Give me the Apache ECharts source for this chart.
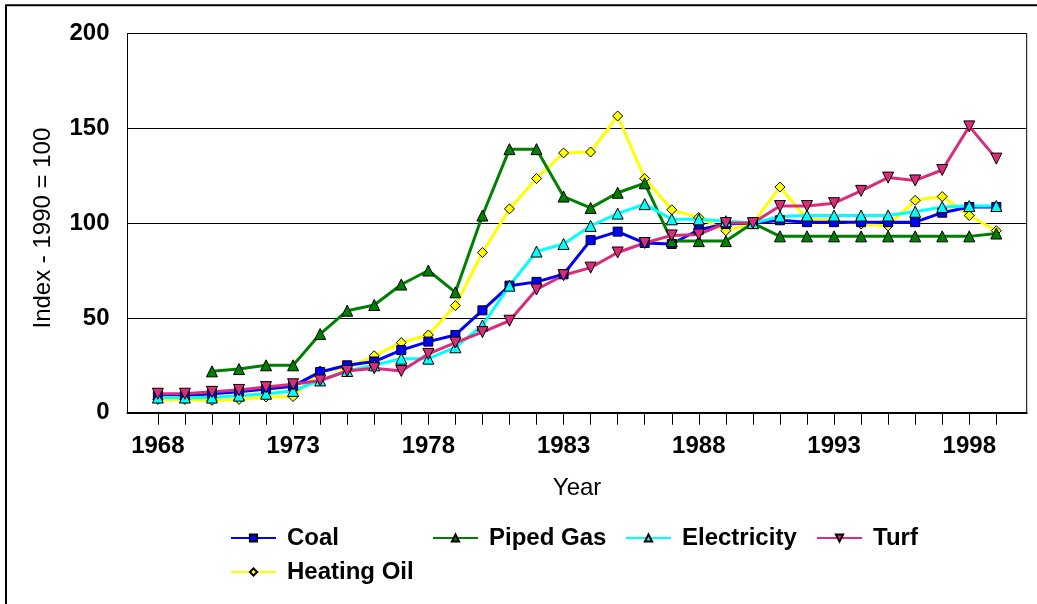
<!DOCTYPE html>
<html>
<head>
<meta charset="utf-8">
<title>Fuel price index</title>
<script src="https://cdn.jsdelivr.net/npm/echarts@6/dist/echarts.min.js"></script>
<style>
  html, body { margin: 0; padding: 0; background: #fff; }
  #chart { width: 1037px; height: 604px; }
</style>
</head>
<body>
<div id="chart"></div>
<script>
// years on the x axis, one tick per year
const years = [1968, 1969, 1970, 1971, 1972, 1973, 1974, 1975, 1976, 1977, 1978, 1979,
  1980, 1981, 1982, 1983, 1984, 1985, 1986, 1987, 1988, 1989, 1990, 1991,
  1992, 1993, 1994, 1995, 1996, 1997, 1998, 1999];
// years that carry a label
const yearLabels = [1968, 1973, 1978, 1983, 1988, 1993, 1998];

// index values, 1990 = 100
const coal = [9, 9, 10, 11, 12.5, 14, 21.5, 25, 27, 33, 37.5, 41,
  54, 67, 69, 73, 91, 95.5, 89.5, 89, 96.5, 99.5, 100, 101.5,
  100.5, 100.5, 100.5, 100.5, 100.5, 105.5, 108.5, 108.5];
const pipedGas = [null, null, 21.8, 23, 25, 25, 41.5, 53.8, 56.8, 67.6, 75, 63.5,
  104, 139, 139, 114, 108, 116, 121, 90.5, 90.5, 90.5, 100, 93,
  93, 93, 93, 93, 93, 93, 93, 94.5];
const electricity = [8, 8, 8, 9, 10, 11.5, 17, 22, 25, 28.5, 28.5, 34.5,
  46, 67, 85, 89, 98.5, 105, 110, 102, 102, 101, 100, 103.5,
  104, 104, 104, 104, 106, 108.5, 109, 109];
const turf = [10, 10, 11, 12, 13.5, 15, 17, 22, 23.5, 22, 31, 37,
  42.5, 48.5, 65, 72.5, 76.5, 84.5, 89.5, 93.5, 94, 100, 100, 109,
  109, 110.5, 117, 124, 122.5, 128, 151, 134];
const heatingOil = [7, 7, 6.5, 7, 8.3, 8.5, 22, 23.5, 30, 37, 41, 56.5,
  84.5, 107.5, 123.5, 137, 137.5, 156.5, 123.5, 107, 103, 96, 100, 119,
  102, 101.5, 99.5, 98.5, 112, 114, 104, 96];

const font = "'Liberation Sans', Arial, sans-serif";

// pair each value with its year
function pairs (values) {
  return values.map((v, i) => [years[i], v]);
}

function lineSeries (name, values, color, symbol, size, rotate) {
  return {
    name: name,
    type: 'line',
    data: pairs(values),
    symbol: symbol,
    symbolSize: size,
    symbolRotate: rotate || 0,
    showAllSymbol: true,
    lineStyle: { color: color, width: 3 },
    itemStyle: { color: color, borderColor: '#000', borderWidth: 1 },
    emphasis: { disabled: true }
  };
}

// one legend per entry so the columns line up like the original
function legendItem (name, left, top) {
  return {
    data: [name],
    left: left,
    top: top,
    padding: 0,
    itemWidth: 45,
    itemHeight: 9,
    itemGap: 0,
    selectedMode: false,
    textStyle: {
      fontFamily: font,
      fontSize: 24,
      fontWeight: 'bold',
      color: '#000',
      padding: [0, 0, 0, 6]
    }
  };
}

const chart = echarts.init(document.getElementById('chart'));
chart.setOption({
  backgroundColor: '#fff',
  animation: false,
  graphic: [{
    type: 'rect',
    shape: { x: 6, y: 5.3, width: 1200, height: 800 },
    style: { fill: 'none', stroke: '#000', lineWidth: 2 },
    silent: true
  }],
  grid: {
    left: 127.5,
    right: 10.3,
    top: 33.5,
    bottom: 191.3,
    show: true,
    borderColor: '#000',
    borderWidth: 1
  },
  legend: [
    legendItem('Coal', 230, 526),
    legendItem('Piped Gas', 432, 526),
    legendItem('Electricity', 625, 526),
    legendItem('Turf', 816, 526),
    legendItem('Heating Oil', 230, 560)
  ],
  xAxis: {
    type: 'value',
    min: 1966.877,
    max: 2000.123,
    name: 'Year',
    nameLocation: 'middle',
    nameGap: 64,
    nameTextStyle: { fontFamily: font, fontSize: 24, color: '#000' },
    axisLine: { show: true, lineStyle: { color: '#000', width: 2 } },
    axisTick: {
      show: true,
      length: 12,
      customValues: years,
      lineStyle: { color: '#000', width: 1 }
    },
    axisLabel: {
      customValues: yearLabels,
      margin: 22,
      fontFamily: font,
      fontSize: 24,
      fontWeight: 'bold',
      color: '#000',
      formatter: (v) => String(v)
    },
    splitLine: { show: false }
  },
  yAxis: {
    type: 'value',
    min: 0,
    max: 200,
    interval: 50,
    name: 'Index - 1990 = 100',
    nameLocation: 'middle',
    nameGap: 72,
    nameTextStyle: { fontFamily: font, fontSize: 24, color: '#000', padding: [0, 10, 0, 0] },
    axisLine: { show: true, lineStyle: { color: '#000', width: 1 } },
    axisTick: { show: false },
    axisLabel: {
      margin: 18,
      fontFamily: font,
      fontSize: 24,
      fontWeight: 'bold',
      color: '#000'
    },
    splitLine: { show: true, lineStyle: { color: '#000', width: 1 } }
  },
  series: [
    lineSeries('Heating Oil', heatingOil, '#FFFF00', 'diamond', 10),
    lineSeries('Coal', coal, '#0000FF', 'rect', 9),
    lineSeries('Piped Gas', pipedGas, '#008000', 'triangle', 11),
    lineSeries('Electricity', electricity, '#00FFFF', 'triangle', 11),
    lineSeries('Turf', turf, '#DB2C7C', 'triangle', 11, 180)
  ]
});
</script>
</body>
</html>
